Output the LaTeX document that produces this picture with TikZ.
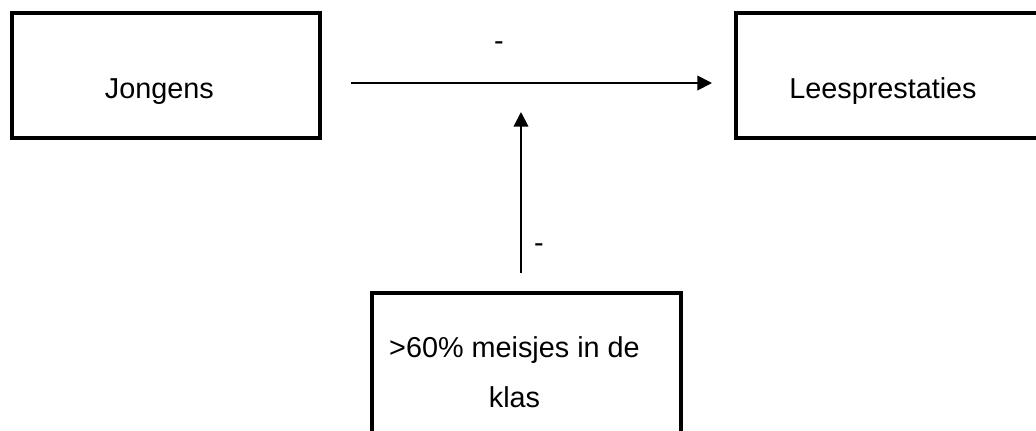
\documentclass[tikz,border=0pt]{standalone}
\usepackage{fontspec}
\setmainfont{Liberation Sans}
\usetikzlibrary{arrows.meta}
\begin{document}
\begin{tikzpicture}[x=0.75pt,y=-0.75pt,
  box/.style={draw, line width=3pt, rectangle, inner sep=0pt, font=\fontsize{21.6pt}{37.5pt}\selectfont},
  lbl/.style={inner sep=0pt, font=\fontsize{21.6pt}{26pt}\selectfont},
  conn/.style={line width=1.4pt, -{Triangle[length=11pt,width=11pt]}}]
\useasboundingbox (0,0) rectangle (1036,430);
\clip (0,0) rectangle (1036,430);
\fill[white] (0,0) rectangle (1036,430);
\node[box, minimum width=231pt, minimum height=93.75pt] (J) at (166,75.5) {\hspace*{-10pt}\raisebox{-17.6pt}[0pt][0pt]{Jongens}};
\node[box, minimum width=232.5pt, minimum height=93.75pt] (L) at (891,75.5) {\hspace*{-12pt}\raisebox{-17.6pt}[0pt][0pt]{Leesprestaties}};
\node[box, minimum width=231.75pt, minimum height=119.25pt, align=center] (M) at (526.5,372.5) {\hspace*{-18pt}>60\% meisjes in de\\\hspace*{-18pt}klas};
\coordinate (h1) at (351,83);
\coordinate (h2) at (712,83);
\coordinate (v1) at (521,273);
\coordinate (v2) at (521,112);
\draw[conn] (h1) -- (h2);
\draw[conn] (v1) -- (v2);
\node[lbl] (m1) at (499,46) {-};
\node[lbl] (m2) at (539,248) {-};
\end{tikzpicture}
\end{document}
